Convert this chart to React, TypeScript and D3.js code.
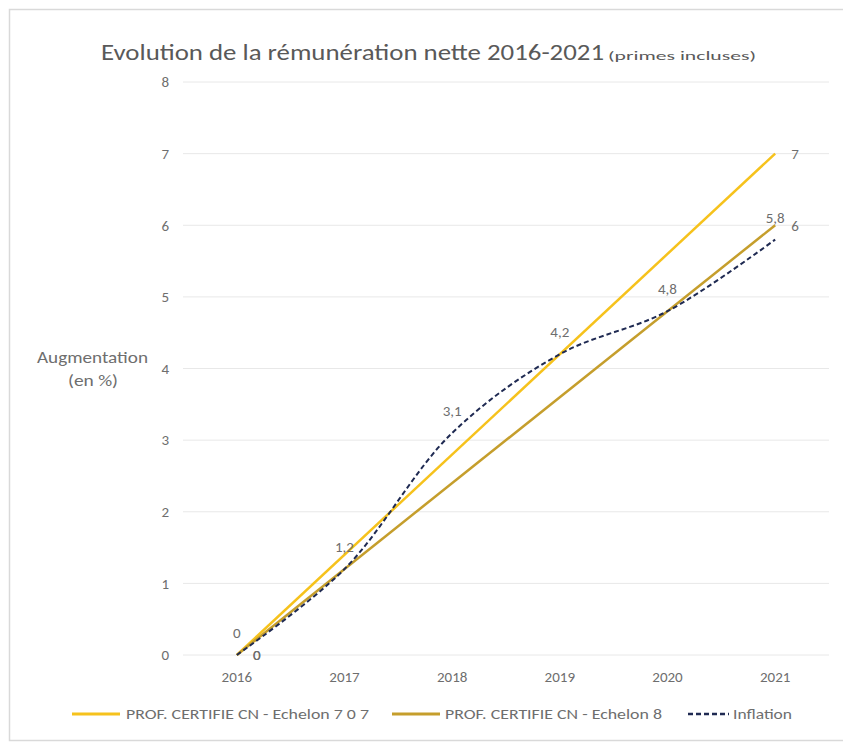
import { useMemo } from 'react';
import * as d3 from 'd3';

// Years on the category axis
const years = ['2016', '2017', '2018', '2019', '2020', '2021'];
// Only the end points are filled in for the two salary series
const echelon707: (number | null)[] = [0, null, null, null, null, 7];
const echelon8: (number | null)[] = [0, null, null, null, null, 6];
const inflation: (number | null)[] = [0, 1.2, 3.1, 4.2, 4.8, 5.8];
const yTicks = [0, 1, 2, 3, 4, 5, 6, 7, 8];

const seriesNames = ['PROF. CERTIFIE CN - Echelon 7 0 7', 'PROF. CERTIFIE CN - Echelon 8', 'Inflation'];

const FONT = "Carlito, Calibri, Lato, 'Open Sans', sans-serif";
const DARK = '#595959';
const GREY = '#6e6e6e';

export default function App() {
  const width = 843;
  const height = 745;

  const x = d3.scalePoint<string>().domain(years).range([183, 829]).padding(0.5);
  const y = d3.scaleLinear().domain([0, 8]).range([655, 82]);

  type Pt = { year: string; value: number };
  const toPoints = (vals: (number | null)[]): Pt[] =>
    vals.map((v, i) => ({ year: years[i], value: v as number })).filter(d => d.value !== null);

  const straight = d3.line<Pt>().x(d => x(d.year)!).y(d => y(d.value));
  const smooth = d3.line<Pt>().x(d => x(d.year)!).y(d => y(d.value)).curve(d3.curveCatmullRom.alpha(0.5));

  const series = useMemo(() => [
    { name: seriesNames[0], pts: toPoints(echelon707), color: '#F6C21C', dash: undefined as string | undefined, width: 2.5, gen: straight, labelPos: 'right' },
    { name: seriesNames[1], pts: toPoints(echelon8), color: '#C59E2C', dash: undefined, width: 2.5, gen: straight, labelPos: 'right' },
    { name: seriesNames[2], pts: toPoints(inflation), color: '#1F2A52', dash: '5,3', width: 2, gen: smooth, labelPos: 'above' },
  ], []);

  const fmt = (v: number) => String(v).replace('.', ',');

  // legend layout (line start, line width, text start, text width)
  const legendItems = [
    { x: 72, lineW: 48, textX: 126, textW: 243 },
    { x: 392, lineW: 48, textX: 445, textW: 217 },
    { x: 688, lineW: 41, textX: 733, textW: 59 },
  ];

  return (
    <svg width={width} height={height} style={{ position: 'absolute', left: 0, top: 0, background: '#fff' }} fontFamily={FONT}>
      <rect x={9.5} y={9.5} width={width + 10} height={731} fill="#fff" stroke="#d9d9d9" strokeWidth={1.5} />

      {/* title */}
      <text x={101} y={60} fontSize={22} fill={DARK} textLength={503} lengthAdjust="spacingAndGlyphs">
        Evolution de la rémunération nette 2016-2021
      </text>
      <text x={608} y={60} fontSize={13} fill={DARK} textLength={148} lengthAdjust="spacingAndGlyphs">(primes incluses)</text>

      {/* grid + y ticks */}
      {yTicks.map(t => (
        <g key={t}>
          <line x1={183} x2={829} y1={y(t)} y2={y(t)} stroke="#e8e8e8" strokeWidth={1} />
          <text x={169} y={y(t)} dy="0.35em" textAnchor="end" fontSize={15} fill={GREY}>{t}</text>
        </g>
      ))}

      {/* x ticks */}
      {years.map(yr => (
        <text key={yr} x={x(yr)} y={682} textAnchor="middle" fontSize={15} fill={GREY}>{yr}</text>
      ))}

      {/* y axis title */}
      <text x={37} y={363} fontSize={17} fill={GREY} textLength={111} lengthAdjust="spacingAndGlyphs">Augmentation</text>
      <text x={68} y={386} fontSize={17} fill={GREY} textLength={50} lengthAdjust="spacingAndGlyphs">(en %)</text>

      {/* lines */}
      {series.map(s => (
        <path key={s.name} d={s.gen(s.pts) ?? ''} fill="none" stroke={s.color} strokeWidth={s.width} strokeDasharray={s.dash} />
      ))}

      {/* data labels */}
      {series.map(s => s.pts.map(p => (
        s.labelPos === 'right' ? (
          <text key={s.name + p.year} x={x(p.year)! + 20} y={y(p.value)} dy="0.35em" textAnchor="middle" fontSize={15} fill={GREY}>{fmt(p.value)}</text>
        ) : (
          <text key={s.name + p.year} x={x(p.year)!} y={y(p.value) - 22} dy="0.35em" textAnchor="middle" fontSize={15} fill={GREY}>{fmt(p.value)}</text>
        )
      )))}

      {/* legend */}
      {series.map((s, i) => (
        <g key={'lg' + s.name}>
          <line x1={legendItems[i].x} x2={legendItems[i].x + legendItems[i].lineW} y1={714} y2={714} stroke={s.color} strokeWidth={s.width + 0.5} strokeDasharray={s.dash} />
          <text x={legendItems[i].textX} y={714} dy="0.35em" fontSize={15} fill={GREY} textLength={legendItems[i].textW} lengthAdjust="spacingAndGlyphs">{s.name}</text>
        </g>
      ))}
    </svg>
  );
}
